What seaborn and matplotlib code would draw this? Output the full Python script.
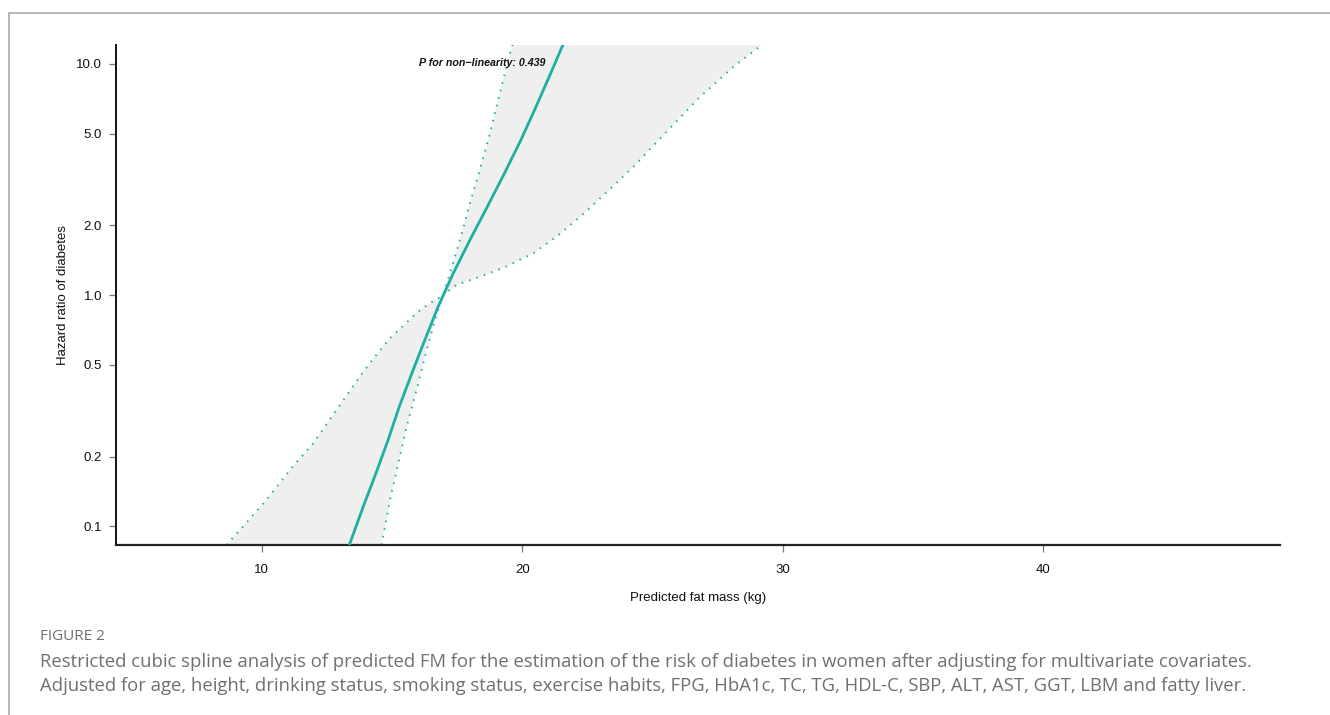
"""Restricted cubic spline: predicted fat mass vs hazard ratio of diabetes (women)."""
import matplotlib.pyplot as plt
import numpy as np
import pandas as pd
import seaborn as sns
from matplotlib.lines import Line2D

# --- spline estimate ---
fm_est = [13.36, 13.89, 14.38, 14.85, 15.28, 15.76, 16.26, 16.77, 17.35, 17.99, 18.66,
          19.32, 19.95, 20.53, 21.09, 21.56]
hr_est = [0.0828, 0.121, 0.169, 0.236, 0.329, 0.458, 0.639, 0.890, 1.24, 1.73, 2.41,
          3.37, 4.69, 6.53, 9.10, 12.08]

# --- upper 95% CI ---
fm_upper = [8.64, 9.28, 10.18, 11.08, 11.97, 12.87, 13.76, 14.28, 14.92, 15.43, 15.94, 16.39,
            16.78, 16.96, 17.22, 17.61, 17.99, 18.37, 18.76, 19.14, 19.46, 19.63]
hr_upper = [0.0828, 0.0995, 0.130, 0.175, 0.228, 0.318, 0.443, 0.530, 0.650, 0.735, 0.838, 0.911,
            0.968, 1.00, 1.24, 1.73, 2.49, 3.47, 5.00, 7.47, 10.4, 12.08]

# --- lower 95% CI ---
fm_lower = [14.60, 14.92, 15.24, 15.56, 15.94, 16.33, 16.65, 16.96, 17.47, 18.37, 19.40,
            20.42, 21.32, 22.22, 22.99, 24.27, 25.55, 26.83, 28.11, 29.20]
hr_lower = [0.0828, 0.130, 0.187, 0.269, 0.388, 0.578, 0.779, 1.00, 1.105, 1.20, 1.33,
            1.515, 1.79, 2.18, 2.62, 3.59, 5.10, 7.21, 9.73, 12.08]

y_ticks = [0.1, 0.2, 0.5, 1.0, 2.0, 5.0, 10.0]
y_ticklabels = ["0.1", "0.2", "0.5", "1.0", "2.0", "5.0", "10.0"]
x_ticks = [10, 20, 30, 40]
p_text = "P for non\u2212linearity: 0.439"

caption_head = "FIGURE 2"
caption_lines = [
    "Restricted cubic spline analysis of predicted FM for the estimation of the risk of diabetes in women after adjusting for multivariate covariates.",
    "Adjusted for age, height, drinking status, smoking status, exercise habits, FPG, HbA1c, TC, TG, HDL-C, SBP, ALT, AST, GGT, LBM and fatty liver.",
]

TEAL = "#1db0a2"
BAND = "#efefef"

sns.set_theme(style="ticks")
plt.rcParams["font.family"] = ["Liberation Sans", "DejaVu Sans"]

W, H = 1330, 715
fig = plt.figure(figsize=(W / 100, H / 100), dpi=100)
ax = fig.add_axes([116 / W, 1 - 545 / H, (1280 - 116) / W, 500 / H])

est = pd.DataFrame({"fm": fm_est, "hr": hr_est})
up = pd.DataFrame({"fm": fm_upper, "hr": hr_upper})
lo = pd.DataFrame({"fm": fm_lower, "hr": hr_lower})

# shaded confidence band: upper curve left->right, lower curve back
poly_x = np.concatenate([up["fm"].values, lo["fm"].values[::-1]])
poly_y = np.concatenate([up["hr"].values, lo["hr"].values[::-1]])
ax.fill(poly_x, poly_y, color=BAND, lw=0, zorder=1)

for d in (up, lo):
    sns.lineplot(data=d, x="fm", y="hr", ax=ax, color=TEAL, lw=1.4,
                 linestyle=(0, (0.8, 3.2)), estimator=None, sort=False, zorder=2)
sns.lineplot(data=est, x="fm", y="hr", ax=ax, color=TEAL, lw=2.0,
             estimator=None, sort=False, zorder=3)

ax.set_yscale("log")
ax.set_xlim(4.4, 49.1)
ax.set_ylim(0.0828, 12.08)
ax.set_yticks(y_ticks)
ax.set_yticklabels(y_ticklabels)
ax.minorticks_off()
ax.set_xticks(x_ticks)
ax.tick_params(axis="both", colors="#777777", labelcolor="#111111", labelsize=9.5,
               length=5, width=0.9)
ax.tick_params(axis="y", pad=5)
ax.tick_params(axis="x", pad=9)

sns.despine(ax=ax)
ax.spines["left"].set_color("#111111")
ax.spines["bottom"].set_color("#222222")
ax.spines["left"].set_linewidth(1.4)
ax.spines["bottom"].set_linewidth(1.6)

ax.set_xlabel("Predicted fat mass (kg)", fontsize=9.5, color="#111111")
ax.set_ylabel("Hazard ratio of diabetes", fontsize=9.5, color="#111111")
ax.xaxis.set_label_coords(0.5, -0.095)
ax.yaxis.set_label_coords(-0.040, 0.5)

ax.text(0.3144, 0.964, p_text, transform=ax.transAxes, ha="center", va="center",
        fontsize=7.7, fontweight="bold", fontstyle="italic", color="#111111")

# page frame (figure panel border)
fig.add_artist(Line2D([9 / W, 1], [1 - 13 / H, 1 - 13 / H], transform=fig.transFigure,
                      color="#aaaaaa", lw=1.2))
fig.add_artist(Line2D([9 / W, 9 / W], [0, 1 - 13 / H], transform=fig.transFigure,
                      color="#aaaaaa", lw=1.2))

cap_font = ["Open Sans", "DejaVu Sans"]
fig.text(40 / W, 1 - 636 / H, caption_head, ha="left", va="center", fontsize=11,
         color="#6e6e6e", family=cap_font)
for i, line in enumerate(caption_lines):
    fig.text(40 / W, 1 - (662 + 24 * i) / H, line, ha="left", va="center", fontsize=13.3,
             color="#707070", family=cap_font)

fig.savefig("out.png", dpi=100)
